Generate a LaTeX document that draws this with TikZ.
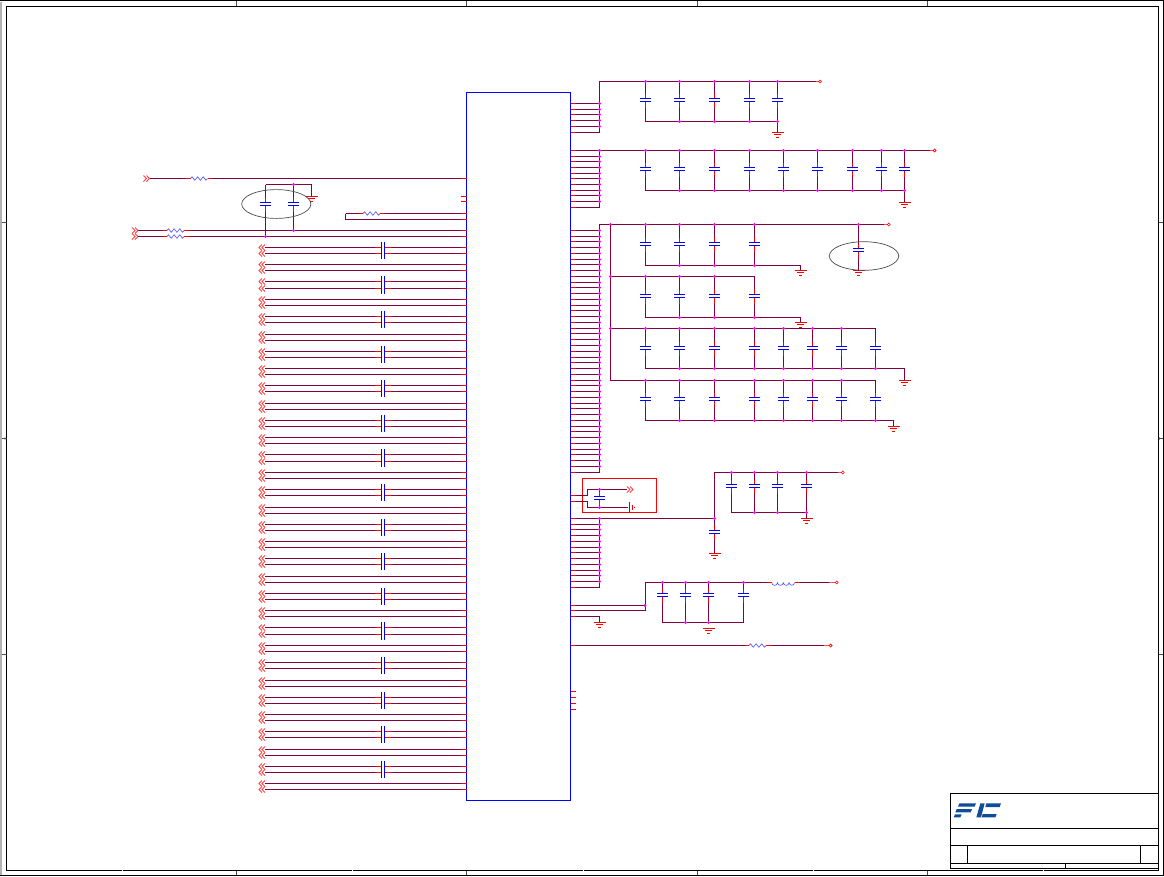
\documentclass[tikz,border=0pt]{standalone}
\definecolor{wirec}{RGB}{128,0,64}
\definecolor{pinc}{RGB}{255,0,0}
\definecolor{partc}{RGB}{0,0,255}
\definecolor{dotc}{RGB}{255,0,255}
\definecolor{logoc}{RGB}{15,76,154}
\tikzset{
  wire/.style={draw=wirec,line width=1.05pt},
  stub/.style={draw=pinc,line width=1.05pt},
  plate/.style={draw=partc,line width=1.05pt},
  zig/.style={draw=partc!70!white,line width=.6pt,line join=round},
  chev/.style={draw=pinc!75!white,line width=.85pt},
  gbar/.style={draw=pinc,line width=1pt},
  frameline/.style={draw=black,line width=1.05pt},
  tickline/.style={draw=black!70,line width=.6pt},
  halo/.style={draw=black!70,line width=.7pt}
}
\newcommand\snap[2]{\pgfmathsetmacro#1{floor(#2)+.5}}
% junction
\newcommand\jdot[2]{\fill[dotc] (#1,#2) circle (1.6);}
% vertical capacitor: x, top, centre, bottom
\newcommand\vcapw[4]{%
  \pgfmathsetmacro\ya{#3-7}\pgfmathsetmacro\yb{#3-2}\pgfmathsetmacro\yc{#3+1}\pgfmathsetmacro\yd{#3+7}%
  \pgfmathsetmacro\xa{#1-5.5}\pgfmathsetmacro\xb{#1+5.5}%
  \draw[wire] (#1,#2) -- (#1,\ya) (#1,\yd) -- (#1,#4);
  \draw[stub] (#1,\ya) -- (#1,\yb) (#1,\yc) -- (#1,\yd);
  \draw[plate] (\xa,\yb) -- (\xb,\yb) (\xa,\yc) -- (\xb,\yc);
}
% ground: x, y
\newcommand\gndw[2]{%
  \draw[gbar] ({#1-6},#2) -- ({#1+6},#2) ({#1-3.5},{#2+2}) -- ({#1+3.5},{#2+2}) ({#1-1.5},{#2+5}) -- ({#1+1.5},{#2+5});
}
% horizontal wire with a resistor: x1, x2, centre, y
\newcommand\rwire[4]{%
  \draw[wire] (#1,#4) -- ({#3-13},#4) ({#3+13},#4) -- (#2,#4);
  \draw[stub] ({#3-13},#4) -- ({#3-8.5},#4) ({#3+8.5},#4) -- ({#3+13},#4);
  \draw[zig] ({#3-8.5},#4) -- ({#3-7},{#4-1.8}) -- ({#3-4.2},{#4+1.8}) -- ({#3-1.4},{#4-1.8}) -- ({#3+1.4},{#4+1.8}) -- ({#3+4.2},{#4-1.8}) -- ({#3+7},{#4+1.8}) -- ({#3+8.5},#4);
}
% two chevrons: tip x, y, direction (+1 right, -1 left)
\newcommand\chevs[3]{%
  \draw[chev] ({#1-#3*3},{#2-3}) -- (#1,#2) -- ({#1-#3*3},{#2+3});
  \draw[chev] (#1,{#2-3}) -- ({#1+#3*3},#2) -- (#1,{#2+3});
}
% off-sheet circle: wire end, circle x, y
\newcommand\termc[3]{%
  \draw[stub,draw=pinc!70!white] (#1,#3) -- ({#2-1.4},#3);
  \draw[pinc,line width=.6pt] (#2,#3) circle (1.5);
}
% horizontal capacitor wire on the left bank, y; centre 383
\newcommand\hcapw[1]{%
  \draw[wire] (265,#1) -- (375,#1) (391,#1) -- (461,#1);
  \draw[stub] (375,#1) -- (381.5,#1) (384.5,#1) -- (391,#1) (461,#1) -- (466.5,#1);
}
\newcommand\hwire[1]{%
  \draw[wire] (265,#1) -- (461,#1);
  \draw[stub] (461,#1) -- (466.5,#1);
}
% right-hand pin, y, bus x
\newcommand\rpin[2]{%
  \draw[wire] (576,#1) -- (#2,#1);
  \draw[stub] (570.5,#1) -- (576,#1);
}
\begin{document}
\begin{tikzpicture}[x=1pt,y=-1pt]
\useasboundingbox (0,0) rectangle (1164,876);
% ---- sheet frame
\fill[black!30] (0,2) rectangle (1.6,876);
\draw[frameline] (0,.5) -- (1164,.5);
\draw[frameline] (1163.5,0) -- (1163.5,876);
\draw[frameline] (0,875.5) -- (1164,875.5);
\draw[frameline] (6.5,6.5) rectangle (1158.5,870.5);
\foreach \x in {236.5,466.5,697.5,927.5} {
  \draw[tickline] (\x,1) -- (\x,6);
  \draw[tickline] (\x,870.5) -- (\x,875);
}
\foreach \x in {122.5,352.5,583.5,813.5,1043.5} {
  \draw[white,line width=1.4pt] (\x,869.5) -- (\x,871.5);
}
\foreach \y in {222.5,438.5,654.5} {
  \draw[tickline] (1.5,\y) -- (6.5,\y);
  \draw[tickline] (1158.5,\y) -- (1163,\y);
}
\fill[black!70] (5,438.5) circle (1.2);
\fill[black!70] (1159.5,438.5) circle (1.2);
% ---- title block
\draw[frameline] (950.5,793.5) rectangle (1158.5,868.5);
\draw[frameline] (950.5,828.5) -- (1158.5,828.5);
\draw[frameline] (950.5,845.5) -- (1158.5,845.5);
\draw[frameline] (950.5,863.5) -- (1158.5,863.5);
\draw[frameline] (967.5,845.5) -- (967.5,863.5);
\draw[frameline] (1140.5,845.5) -- (1140.5,863.5);
\draw[frameline] (1065.5,863.5) -- (1065.5,868.5);
\begin{scope}[shift={(940,785)},x=.3333pt,y=-.3333pt]
  \fill[logoc] (58,55) -- (108,55) -- (104,65) -- (54,65) -- cycle;
  \fill[logoc] (50,72) -- (96,72) -- (92,82) -- (46,82) -- cycle;
  \fill[logoc] (45,88) -- (65,88) -- (61,97) -- (41,97) -- cycle;
  \fill[logoc] (121,55) -- (134,55) -- (123,97) -- (109,97) -- cycle;
  \fill[logoc] (139,55) -- (183,55) -- (179,66) -- (136,66) -- cycle;
  \fill[logoc] (128,87) -- (170,87) -- (166,97) -- (125,97) -- cycle;
\end{scope}
% ---- the chip
\draw[draw=partc,line width=1.05pt] (466.5,92.5) rectangle (570.5,800.5);
% ---- left side, top
\chevs{146.5}{178.5}{1}
\rwire{150}{461}{199}{178.5}
\draw[stub] (461,178.5) -- (466.5,178.5);
\draw[stub] (461,196.5) -- (466.5,196.5) (461,201.5) -- (466.5,201.5);
% loop resistor
\draw[wire] (345.5,213.5) -- (345.5,219.5) -- (461,219.5);
\rwire{345.5}{461}{371.5}{213.5}
\draw[stub] (461,213.5) -- (466.5,213.5) (461,219.5) -- (466.5,219.5);
% pair of resistors
\chevs{135}{230.5}{1}
\chevs{135}{236.5}{1}
\rwire{138}{461}{175.5}{230.5}
\rwire{138}{461}{175.5}{236.5}
\draw[stub] (461,230.5) -- (466.5,230.5) (461,236.5) -- (466.5,236.5);
% two caps in the ellipse
\draw[wire] (265.5,184.5) -- (311.5,184.5) -- (311.5,196);
\vcapw{265.5}{184.5}{204.5}{236.5}
\vcapw{293.5}{184.5}{204.5}{230.5}
\jdot{293.5}{184.5}\jdot{293.5}{230.5}\jdot{265.5}{236.5}
\gndw{311.5}{196.5}
\draw[halo] (276.3,204) ellipse (34.6 and 14.4);
% ---- left bank
\foreach \k in {0,...,15} {
  \snap\ya{247.3+34.6*\k}
  \snap\yb{253.4+34.6*\k}
  \snap\yc{264.9+34.6*\k}
  \snap\yd{270.8+34.6*\k}
  \pgfmathsetmacro\ye{241.7+34.6*\k}
  \pgfmathsetmacro\yf{259+34.6*\k}
  \hcapw{\ya}\hcapw{\yb}\hwire{\yc}\hwire{\yd}
  \draw[plate] (381.5,\ye) -- (381.5,\yf) (384.5,\ye) -- (384.5,\yf);
  \chevs{262}{\ya}{-1}\chevs{262}{\yb}{-1}\chevs{262}{\yc}{-1}\chevs{262}{\yd}{-1}
}
% ---- right group 1
\foreach \k in {0,...,5} {\snap\y{103.3+5.8*\k}\rpin{\y}{599.5}}
\draw[wire] (599.5,132.5) -- (599.5,81.5) -- (816,81.5);
\foreach \k in {0,...,4} {\snap\y{103.3+5.8*\k}\jdot{599.5}{\y}}
\termc{816}{820}{81.5}
\draw[wire] (645.5,121.5) -- (777.5,121.5) -- (777.5,132.5);
\foreach \x in {645.5,679.5,714.5,749.5,777.5} {\vcapw{\x}{81.5}{100.5}{121.5}\jdot{\x}{81.5}}
\foreach \x in {679.5,714.5,749.5,777.5} {\jdot{\x}{121.5}}
\gndw{777.5}{132.5}
% ---- right group 2
\foreach \k in {0,...,10} {\snap\y{150.3+5.7*\k}\rpin{\y}{599.5}}
\draw[wire] (599.5,207.5) -- (599.5,150.5) -- (930,150.5);
\foreach \k in {0,...,9} {\snap\y{150.3+5.7*\k}\jdot{599.5}{\y}}
\termc{930}{934.6}{150.5}
\draw[wire] (645.5,190.5) -- (904.5,190.5) -- (904.5,202.5);
\foreach \x in {645.5,679.5,714.5,749.5,783.5,817.5,852.5,881.5,904.5} {\vcapw{\x}{150.5}{169.5}{190.5}\jdot{\x}{150.5}}
\foreach \x in {679.5,714.5,749.5,783.5,817.5,852.5,881.5,904.5} {\jdot{\x}{190.5}}
\gndw{904.5}{202.5}
% ---- right group 3
\foreach \k in {0,...,42} {\snap\y{230.3+5.76*\k}\rpin{\y}{599.5}}
\draw[wire] (599.5,472.5) -- (599.5,224.5) -- (884,224.5);
\foreach \k in {0,...,41} {\snap\y{230.3+5.76*\k}\jdot{599.5}{\y}}
\termc{884}{888.7}{224.5}
\jdot{610.5}{224.5}
\draw[wire] (610.5,224.5) -- (610.5,380.5) -- (875.5,380.5) (610.5,328.5) -- (875.5,328.5) (610.5,276.5) -- (754.5,276.5);
\jdot{610.5}{276.5}\jdot{610.5}{328.5}
% row a
\draw[wire] (645.5,265.5) -- (800.5,265.5) -- (800.5,270);
\foreach \x in {645.5,679.5,714.5,754.5} {\vcapw{\x}{224.5}{244.5}{265.5}\jdot{\x}{224.5}}
\foreach \x in {679.5,714.5,754.5} {\jdot{\x}{265.5}}
\gndw{800.5}{270.5}
\vcapw{858.5}{224.5}{250.5}{270}\jdot{858.5}{224.5}
\gndw{858.5}{270.5}
\draw[halo] (864,256) ellipse (34.7 and 14.3);
% row b
\draw[wire] (645.5,317.5) -- (800.5,317.5) -- (800.5,322);
\foreach \x in {645.5,679.5,714.5,754.5} {\vcapw{\x}{276.5}{296.5}{317.5}}
\foreach \x in {645.5,679.5,714.5} {\jdot{\x}{276.5}}
\foreach \x in {679.5,714.5,754.5} {\jdot{\x}{317.5}}
\gndw{800.5}{322.5}
% row c
\draw[wire] (645.5,368.5) -- (904.5,368.5) -- (904.5,380);
\foreach \x in {645.5,679.5,714.5,754.5,783.5,812.5,841.5,875.5} {\vcapw{\x}{328.5}{348.5}{368.5}}
\foreach \x in {645.5,679.5,714.5,754.5,783.5,812.5,841.5} {\jdot{\x}{328.5}}
\foreach \x in {679.5,714.5,754.5,783.5,812.5,841.5,875.5} {\jdot{\x}{368.5}}
\gndw{904.5}{380.5}
% row d
\draw[wire] (645.5,420.5) -- (893.5,420.5) -- (893.5,426.5);
\foreach \x in {645.5,679.5,714.5,754.5,783.5,812.5,841.5,875.5} {\vcapw{\x}{380.5}{399.5}{420.5}}
\foreach \x in {645.5,679.5,714.5,754.5,783.5,812.5,841.5} {\jdot{\x}{380.5}}
\foreach \x in {679.5,714.5,754.5,783.5,812.5,841.5,875.5} {\jdot{\x}{420.5}}
\gndw{893.5}{426.5}
% ---- red box
\draw[draw=pinc,line width=1.05pt] (582.5,478.5) rectangle (656.5,512.5);
\draw[stub] (570.5,495.5) -- (576,495.5) (570.5,501.5) -- (576,501.5);
\draw[wire] (576,495.5) -- (587.5,495.5) -- (587.5,489.5) -- (627,489.5);
\draw[wire] (576,501.5) -- (587.5,501.5) -- (587.5,507.5) -- (628,507.5);
\vcapw{599.5}{489.5}{498.5}{507.5}
\jdot{599.5}{489.5}\jdot{599.5}{507.5}
\chevs{630}{489.5}{1}
\draw[draw=pinc!80!black,line width=1.1pt] (629.5,501.5) -- (629.5,513);
\draw[draw=pinc,line width=.6pt] (632,504.5) -- (632,510) (634.2,506.5) -- (634.2,508);
% ---- right group 4
\foreach \k in {0,...,12} {\snap\y{518.3+5.76*\k}\rpin{\y}{599.5}}
\draw[wire] (599.5,587.5) -- (599.5,518.5) -- (714.5,518.5) -- (714.5,472.5) -- (838,472.5);
\foreach \k in {0,...,11} {\snap\y{518.3+5.76*\k}\jdot{599.5}{\y}}
\termc{838}{842.7}{472.5}
\draw[wire] (731.5,512.5) -- (806.5,512.5) -- (806.5,518);
\foreach \x in {731.5,754.5,777.5,806.5} {\vcapw{\x}{472.5}{486.5}{512.5}\jdot{\x}{472.5}}
\foreach \x in {754.5,777.5,806.5} {\jdot{\x}{512.5}}
\gndw{806.5}{518.5}
\vcapw{714.5}{518.5}{532.5}{553}\jdot{714.5}{518.5}
\gndw{714.5}{553.5}
% ---- right group 5
\rpin{605.5}{645.5}\rpin{610.5}{645.5}
\draw[wire] (645.5,611) -- (645.5,582.5) -- (767,582.5);
\jdot{645}{605.5}
\draw[stub] (767,582.5) -- (771.7,582.5) (795,582.5) -- (799.5,582.5);
\draw[zig] (771.7,582.5) arc (180:0:2.9) arc (180:0:2.9) arc (180:0:2.9) arc (180:0:2.75);
\draw[wire] (799.5,582.5) -- (829,582.5);
\termc{829}{836.7}{582.5}
\draw[wire] (662.5,622.5) -- (743.5,622.5);
\foreach \x in {662.5,685.5,708.5,743.5} {\vcapw{\x}{582.5}{595.5}{622.5}\jdot{\x}{582.5}}
\jdot{685.5}{622.5}\jdot{708.5}{622.5}
\gndw{708.5}{628.5}
\rpin{616.5}{599.5}
\draw[wire] (599.5,616.5) -- (599.5,622);
\gndw{599.5}{622.5}
% ---- resistor to terminal
\draw[stub] (570.5,645.5) -- (576,645.5);
\rwire{576}{824}{757.5}{645.5}
\termc{824}{830.6}{645.5}
% ---- spare pins
\draw[stub] (570.5,691.5) -- (576,691.5) (570.5,697.5) -- (576,697.5) (570.5,703.5) -- (576,703.5) (570.5,709.5) -- (576,709.5);
\end{tikzpicture}
\end{document}
